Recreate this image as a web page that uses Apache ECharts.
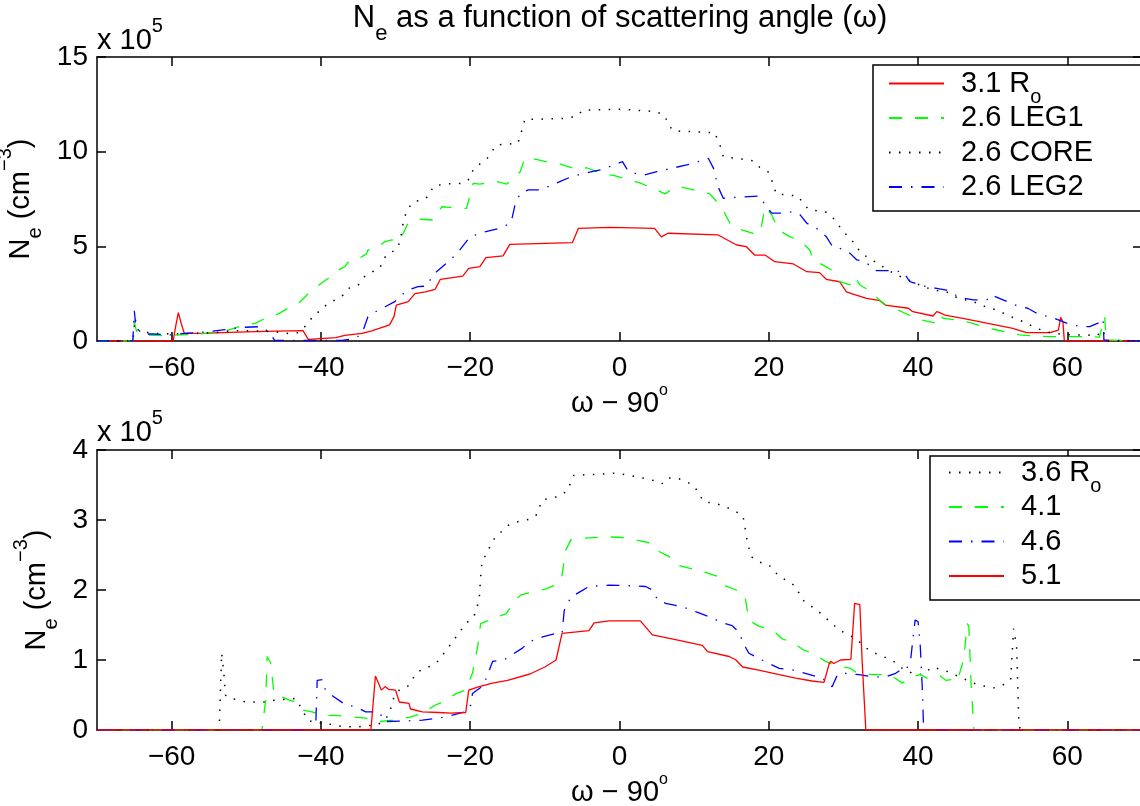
<!DOCTYPE html>
<html>
<head>
<meta charset="utf-8">
<script src="https://cdn.jsdelivr.net/npm/echarts@6.0.0/dist/echarts.min.js"></script>
<style>
html, body { margin: 0; padding: 0; background: #fff; }
#chart { width: 1140px; height: 806px; }
</style>
</head>
<body>
<div id="chart"></div>
<script>
// angle (omega - 90, deg) vs Ne in units of 1e5 cm^-3
var angleTicks = [-60, -40, -20, 0, 20, 40, 60];

// top panel
var r31 = [[-70,0],[-59.8,0],[-59.4,0.9],[-59.1,1.5],[-58.7,0.9],[-58.3,0.4],[-55,0.42],[-50,0.48],[-46,0.52],[-42.4,0.55],[-41.7,0.09],[-38,0.18],[-36.8,0.3],[-34.5,0.4],[-33.2,0.53],[-30.8,0.85],[-30.2,1.3],[-29.9,1.9],[-28.3,2.08],[-27.4,2.5],[-26,2.6],[-24.7,2.73],[-24,3.26],[-21,3.43],[-20.2,3.84],[-18.7,3.93],[-17.9,4.4],[-15.6,4.5],[-14.7,5.1],[-6.3,5.2],[-5.5,5.95],[-1.3,6.0],[4.7,5.95],[5.6,5.5],[6.5,5.69],[13.2,5.6],[15.7,5.07],[17.0,4.98],[18.1,4.54],[19.5,4.54],[20.8,4.19],[23.3,4.07],[25.1,3.66],[26.8,3.61],[27.7,3.26],[29.5,3.13],[30.4,2.6],[31.3,2.48],[33.1,2.25],[34.9,2.13],[35.6,1.9],[38.7,1.73],[39.3,1.55],[42.0,1.32],[42.5,1.55],[42.9,1.5],[43.6,1.37],[46.0,1.2],[49.2,0.94],[52.7,0.67],[54.5,0.44],[57.7,0.44],[58.8,0.58],[59.1,1.25],[59.4,1.02],[59.6,0],[70,0]];
var leg1 = [[-70,0],[-65.2,0],[-65.0,1.0],[-64.7,0.5],[-64.0,0.32],[-61.3,0.28],[-57,0.35],[-55.5,0.4],[-52.4,0.58],[-50.2,0.85],[-48.8,0.93],[-47.1,1.28],[-45.7,1.43],[-43.9,1.85],[-43.0,1.99],[-41.2,2.7],[-39.0,3.31],[-38.1,3.66],[-36.8,3.93],[-36.3,4.19],[-35.4,4.24],[-33.9,4.6],[-33.7,4.81],[-32.8,4.84],[-31.4,5.25],[-30.5,5.34],[-29.6,5.25],[-28.7,5.9],[-28.3,6.25],[-26.7,6.43],[-25.0,6.39],[-23.8,7.09],[-22.7,7.06],[-20.5,7.0],[-19.6,8.33],[-18.7,8.29],[-16.5,8.42],[-15.1,8.29],[-13.3,8.94],[-12.7,9.65],[-11.3,9.6],[-9.3,9.42],[-8.0,9.35],[-5.7,9.07],[-4.4,9.15],[-2.2,8.82],[-0.8,8.75],[1.4,8.5],[2.7,8.35],[4.5,8.07],[6.1,7.77],[7.6,8.17],[8.5,8.12],[10.8,7.89],[12.1,7.77],[13.4,7.18],[14.1,6.75],[15.0,6.07],[16.1,5.9],[17.9,5.69],[18.8,5.69],[19.0,6.04],[19.5,7.09],[20.4,6.66],[21.3,5.86],[22.8,5.51],[24.2,5.3],[25.5,4.81],[25.9,4.28],[27.3,4.01],[28.4,3.75],[29.5,3.13],[30.9,2.96],[31.5,3.4],[32.2,2.96],[33.8,2.6],[34.7,2.2],[36.0,1.81],[37.3,1.64],[39.3,1.28],[40.5,1.11],[42.5,0.94],[42.9,1.37],[43.4,1.2],[45.2,1.11],[46.5,1.02],[48.7,0.76],[50.1,0.62],[52.3,0.44],[53.6,0.32],[55.9,0.26],[57.7,0.23],[63.0,0.23],[64.3,0.2],[65.0,1.28],[65.2,0.05],[65.4,0],[70,0]];
var core = [[-70,0],[-65.2,0],[-64.9,1.2],[-64.5,0.58],[-62.7,0.4],[-60,0.37],[-56.9,0.4],[-54.3,0.44],[-51.6,0.54],[-48.9,0.54],[-46.2,0.49],[-44.4,0.4],[-43.0,0.44],[-41.7,0.93],[-41.0,1.37],[-39.9,1.64],[-39.2,1.95],[-38.1,2.17],[-37.0,2.43],[-36.3,2.78],[-35.0,2.96],[-34.3,3.36],[-33.4,3.61],[-32.1,3.84],[-31.7,4.28],[-31.0,4.63],[-29.9,4.81],[-29.4,5.25],[-29.0,6.2],[-28.5,6.9],[-27.6,7.36],[-26.3,7.45],[-25.4,7.71],[-25.0,8.15],[-23.6,8.29],[-20.9,8.33],[-20.0,8.59],[-19.6,9.07],[-18.7,9.35],[-17.8,9.6],[-17.1,10.0],[-16.5,10.35],[-15.1,10.4],[-13.6,10.44],[-13.3,10.88],[-12.9,11.32],[-12.7,11.71],[-11.1,11.71],[-7.1,11.76],[-5.7,11.88],[-4.9,12.2],[0.5,12.24],[5.0,12.11],[6.1,11.88],[6.5,11.45],[7.2,11.1],[12.8,11.0],[13.2,10.53],[13.7,10.13],[13.9,9.74],[17.9,9.52],[18.8,9.17],[19.9,8.94],[20.4,8.5],[21.0,7.77],[23.9,7.66],[24.6,7.27],[25.3,6.96],[27.7,6.8],[28.6,6.5],[29.3,6.13],[29.9,5.86],[30.6,5.51],[31.5,5.16],[32.2,4.72],[33.1,4.45],[34.2,4.19],[34.9,4.01],[37.1,3.49],[38.2,3.31],[40.2,2.96],[42.0,2.69],[43.8,2.6],[45.4,2.25],[47.4,2.08],[49.2,1.78],[50.5,1.64],[52.5,1.28],[54.1,1.02],[55.4,0.76],[56.5,0.58],[58.1,0.4],[60.8,0.32],[62.6,0.32],[63.9,0.26],[64.8,0.58],[65.0,0.23],[65.2,0],[70,0]];
var leg2 = [[-70,0],[-65.2,0],[-65.0,1.6],[-64.8,0.8],[-64.0,0.37],[-62.5,0.37],[-60.0,0.32],[-58.2,0.4],[-55.1,0.49],[-52.4,0.62],[-50.6,0.72],[-47.9,0.76],[-46.8,0.4],[-46.2,0.03],[-37.2,0.03],[-35.4,0.14],[-34.5,0.4],[-33.7,1.28],[-32.3,1.64],[-31.4,1.81],[-30.1,2.08],[-29.2,2.43],[-28.3,2.69],[-27.0,2.87],[-25.8,2.9],[-25.0,3.49],[-23.2,4.1],[-21.8,4.6],[-20.0,5.51],[-18.5,5.72],[-15.6,6.0],[-14.5,6.3],[-14.0,7.18],[-13.3,7.8],[-12.2,7.98],[-10.9,7.98],[-9.3,8.19],[-8.0,8.42],[-6.6,8.65],[-5.3,8.8],[-3.7,8.94],[-2.2,9.07],[-0.8,9.3],[0.4,9.47],[1.2,8.94],[3.2,8.75],[5.0,8.94],[6.2,9.05],[9.0,9.3],[10.5,9.47],[11.9,9.65],[12.6,9.12],[13.2,8.15],[13.9,7.54],[15.7,7.59],[18.8,7.66],[19.5,7.18],[20.4,6.75],[21.5,6.75],[23.3,6.83],[24.2,6.66],[25.1,6.22],[26.8,5.86],[27.7,5.51],[28.6,4.95],[29.5,4.9],[30.9,4.63],[31.8,4.28],[32.6,4.22],[34.0,3.9],[34.4,3.72],[35.8,3.72],[38.0,3.66],[38.9,3.13],[41.1,2.87],[42.5,2.78],[43.8,2.69],[45.6,2.3],[47.4,2.17],[49.2,2.17],[49.8,2.43],[50.9,2.25],[52.5,1.99],[53.6,1.81],[54.7,1.73],[56.3,1.37],[57.7,1.28],[59.9,0.94],[61.7,0.76],[63.0,0.76],[64.1,0.94],[64.6,1.2],[64.8,1.02],[64.9,0.05],[65.1,0],[70,0]];

// bottom panel
var r36 = [[-70,0],[-53.8,0],[-53.6,0.1],[-53.3,1.1],[-53.0,0.81],[-52.8,0.5],[-52.3,0.45],[-51.4,0.44],[-50.1,0.4],[-48.7,0.4],[-47.4,0.4],[-46.1,0.43],[-44.7,0.44],[-43.4,0.45],[-42.5,0.29],[-41.8,0.14],[-40.7,0.1],[-39.4,0.1],[-38,0.06],[-36.7,0.05],[-35.3,0.04],[-34,0.06],[-32.4,0.07],[-30.9,0.21],[-30.2,0.48],[-29.5,0.57],[-28.4,0.62],[-27.1,0.83],[-26.0,0.88],[-24.6,0.95],[-23.7,1.07],[-22.5,1.24],[-20.6,1.52],[-19.5,1.62],[-18.8,1.86],[-18.6,2.19],[-18.4,2.43],[-17.7,2.52],[-17.3,2.64],[-16.6,2.76],[-14.8,2.93],[-13.5,2.98],[-12.1,3.01],[-11.2,3.06],[-10.3,3.29],[-9.0,3.31],[-7.7,3.36],[-6.9,3.43],[-6.5,3.55],[-6.1,3.64],[-3.2,3.65],[-0.5,3.67],[2.2,3.62],[4.8,3.56],[5.7,3.52],[6.4,3.6],[7.7,3.6],[8.9,3.55],[10.0,3.49],[10.6,3.38],[11.3,3.26],[12.7,3.24],[14.0,3.2],[15.2,3.14],[16.5,3.07],[16.7,2.98],[16.9,2.83],[17.1,2.71],[17.6,2.48],[18.7,2.4],[20.0,2.36],[21.4,2.19],[22.7,2.12],[23.6,2.05],[24.5,1.86],[25.8,1.76],[26.7,1.69],[29.4,1.43],[31.6,1.31],[33.4,1.14],[34.8,1.07],[36.5,1.0],[37.9,0.88],[39.2,0.81],[40.6,0.79],[41.9,0.9],[43.2,0.86],[44.1,0.83],[45.5,0.76],[47.7,0.66],[49.1,0.62],[50.4,0.6],[51.3,0.64],[52.4,0.71],[52.8,1.45],[53.2,1.19],[53.5,0.1],[53.7,0],[70,0]];
var r41 = [[-70,0],[-47.9,0],[-47.4,0.43],[-47.2,1.05],[-46.7,0.95],[-46.3,0.52],[-45.4,0.48],[-44.3,0.43],[-43.4,0.4],[-42.7,0.29],[-41.2,0.26],[-39.8,0.21],[-38,0.21],[-36.2,0.19],[-34,0.17],[-32.2,0.12],[-30.4,0.14],[-28.2,0.18],[-26.4,0.24],[-24.6,0.36],[-23.7,0.4],[-21.9,0.52],[-20.6,0.57],[-19.7,0.81],[-19.0,1.19],[-18.6,1.52],[-16.8,1.6],[-15.2,1.66],[-13.9,1.86],[-13.2,1.93],[-11.2,1.98],[-9.7,2.02],[-8.1,2.1],[-7.7,2.21],[-7.2,2.57],[-6.5,2.72],[-4.8,2.74],[-1.8,2.76],[0.4,2.75],[2.4,2.71],[4.2,2.67],[5.3,2.55],[6.6,2.48],[7.5,2.36],[9.8,2.3],[11.3,2.26],[13.3,2.19],[14.0,2.07],[15.6,2.0],[16.7,1.95],[16.9,1.86],[17.3,1.57],[18.7,1.48],[20.5,1.43],[21.8,1.3],[23.1,1.26],[24.7,1.14],[25.8,1.1],[27.6,0.98],[28.7,0.93],[30.1,0.9],[31.0,0.88],[31.6,0.83],[33.9,0.79],[35.2,0.79],[36.1,0.8],[37.9,0.67],[39.0,0.76],[40.3,0.79],[41.2,0.74],[41.7,0.76],[42.8,0.79],[43.7,0.71],[44.4,0.72],[44.6,0.81],[45.5,0.79],[46.1,1.0],[46.6,1.52],[46.8,1.48],[47.1,0.67],[47.4,0.14],[47.5,0],[70,0]];
var r46 = [[-70,0],[-40.8,0],[-40.7,0.05],[-40.5,0.71],[-39.8,0.72],[-39.4,0.57],[-38.9,0.52],[-36.7,0.36],[-35.3,0.33],[-34.0,0.26],[-32.2,0.26],[-31.5,0.12],[-28.6,0.13],[-26.4,0.14],[-24.2,0.17],[-22.8,0.2],[-20.6,0.26],[-19.9,0.36],[-19.7,0.52],[-18.2,0.64],[-17.0,0.98],[-15.5,1.0],[-14.8,1.05],[-13.0,1.17],[-12.1,1.26],[-10.3,1.33],[-8.5,1.38],[-7.7,1.38],[-7.4,1.71],[-6.5,1.9],[-5.2,1.98],[-4.1,2.05],[-1.4,2.07],[1.7,2.06],[3.5,2.05],[4.4,2.0],[5.1,1.86],[6.2,1.81],[8.4,1.76],[10.2,1.69],[12.0,1.62],[13.8,1.53],[15.1,1.49],[16.0,1.4],[16.5,1.26],[17.3,1.1],[18.7,1.02],[21.4,0.88],[23.1,0.86],[24.9,0.81],[27.2,0.74],[28.1,0.64],[28.5,0.62],[29.2,0.79],[30.1,0.81],[32.1,0.79],[33.9,0.76],[35.7,0.76],[37.0,0.81],[37.7,0.86],[38.4,0.86],[39.0,1.0],[39.6,1.57],[40.0,1.55],[40.3,1.19],[40.6,0.52],[40.7,0.14],[40.8,0],[70,0]];
var r51 = [[-70,0],[-33.3,0],[-32.7,0.77],[-31.9,0.57],[-31.4,0.62],[-30.9,0.58],[-30.0,0.57],[-29.5,0.4],[-28.2,0.38],[-28.0,0.3],[-26.4,0.26],[-24.2,0.25],[-22.6,0.24],[-20.6,0.25],[-20.2,0.57],[-18.8,0.62],[-17.0,0.67],[-15.0,0.71],[-12.0,0.8],[-10.0,0.9],[-8.5,1.0],[-7.7,1.38],[-4.1,1.42],[-3.4,1.53],[-1.4,1.56],[2.8,1.56],[4.4,1.36],[7.5,1.29],[11.1,1.21],[11.8,1.12],[14.7,1.05],[15.6,1.0],[16.5,0.9],[18.5,0.86],[21.4,0.79],[23.6,0.74],[25.8,0.7],[27.4,0.68],[28.1,0.95],[28.3,0.98],[28.7,0.95],[29.6,1.0],[31.0,1.01],[31.5,1.81],[32.2,1.79],[32.5,1.0],[33.0,0],[70,0]];

var FONT = 'Liberation Sans';
var black = '#000';
var frame = { color: black, width: 1.5 };

// rich text styles: m = normal text, sub/sup = lowered / raised small text
function richSet(size, lh) {
    var small = Math.round(size * 0.7);
    return {
        m: { fontFamily: FONT, fontSize: size, fontWeight: 'normal', color: black, lineHeight: lh },
        sub: { fontFamily: FONT, fontSize: small, fontWeight: 'normal', color: black, verticalAlign: 'bottom', lineHeight: 4, height: 4 },
        sup: { fontFamily: FONT, fontSize: small, fontWeight: 'normal', color: black, verticalAlign: 'top', lineHeight: 4, height: 4 },
        deg: { fontFamily: FONT, fontSize: 16, fontWeight: 'normal', color: black, verticalAlign: 'top', lineHeight: 4, height: 8 },
        g: { width: 12, lineHeight: 4 }
    };
}
var nameRich = richSet(29, 34);
var titleRich = richSet(31, 36);
var legendRich = richSet(29, 32);

var chart = echarts.init(document.getElementById('chart'));

function xAxis(grid, pos, labelled) {
    return {
        type: 'value', gridIndex: grid, position: pos, min: -70, max: 70,
        axisLine: { show: true, onZero: false, lineStyle: frame },
        axisTick: { show: true, inside: true, length: 9, customValues: angleTicks, lineStyle: frame },
        axisLabel: {
            show: labelled, customValues: angleTicks, margin: 13, color: black,
            fontFamily: FONT, fontSize: 28,
            formatter: function (v) { return v < 0 ? '\u2212' + (-v) : String(v); }
        },
        splitLine: { show: false },
        name: labelled ? '{m|\u03c9 \u2212 90}{deg|o}' : '',
        nameLocation: 'middle', nameGap: 40,
        nameTextStyle: { rich: nameRich }
    };
}

function yAxis(grid, pos, max, step, labelled) {
    return {
        type: 'value', gridIndex: grid, position: pos, min: 0, max: max, interval: step,
        axisLine: { show: true, onZero: false, lineStyle: frame },
        axisTick: { show: true, inside: true, length: 9, lineStyle: frame },
        axisLabel: { show: labelled, margin: 9, color: black, fontFamily: FONT, fontSize: 28 },
        splitLine: { show: false },
        name: labelled ? '{m|N}{sub|e}{m| (cm}{sup|\u22123}{m|)}' : '',
        nameLocation: 'middle', nameGap: 26,
        nameTextStyle: { rich: nameRich }
    };
}

function series(name, data, grid, color, dash, width) {
    return {
        type: 'line', name: name, data: data,
        xAxisIndex: grid * 2, yAxisIndex: grid * 2,
        symbol: 'none', showSymbol: false, animation: false,
        lineStyle: { color: color, width: width, type: dash },
        itemStyle: { color: color }
    };
}

var solid = 'solid';
var dashed = [13, 13];
var dotted = [1.5, 8.5];
var dashDot = [13, 9, 1.5, 9];

// every entry gets a subscript slot so all legend rows have the same height
function legendText(name) {
    if (name.slice(-3) === ' Ro') {
        return '{g| }{m|' + name.slice(0, -1) + '}{sub|o}';
    }
    return '{g| }{m|' + name + '}{sub| }';
}

function legend(names, left, top, padding, gap) {
    return {
        data: names, orient: 'vertical', left: left, top: top,
        itemWidth: 55, itemHeight: 20, itemGap: gap, padding: padding,
        borderColor: black, borderWidth: 1.5, backgroundColor: '#fff',
        itemStyle: { color: 'rgba(0,0,0,0)', borderWidth: 0, opacity: 0 },
        selectedMode: false, formatter: legendText,
        textStyle: { rich: legendRich }
    };
}

var option = {
    backgroundColor: '#fff',
    animation: false,
    title: [
        {
            text: '{m|N}{sub|e}{m| as a function of scattering angle (\u03c9)}',
            left: 620, top: 0, textAlign: 'center', padding: 0,
            textStyle: { rich: titleRich }
        },
        {
            text: '{m|x 10}{sup|5}', left: 97, top: 24, padding: 0,
            textStyle: { rich: nameRich }
        },
        {
            text: '{m|x 10}{sup|5}', left: 97, top: 416, padding: 0,
            textStyle: { rich: nameRich }
        }
    ],
    grid: [
        { left: 97, top: 57, width: 1045, height: 284, containLabel: false, outerBoundsMode: 'none' },
        { left: 97, top: 450, width: 1045, height: 280, containLabel: false, outerBoundsMode: 'none' }
    ],
    xAxis: [
        xAxis(0, 'bottom', true), xAxis(0, 'top', false),
        xAxis(1, 'bottom', true), xAxis(1, 'top', false)
    ],
    yAxis: [
        yAxis(0, 'left', 15, 5, true), yAxis(0, 'right', 15, 5, false),
        yAxis(1, 'left', 4, 1, true), yAxis(1, 'right', 4, 1, false)
    ],
    legend: [
        legend(['3.1 Ro', '2.6 LEG1', '2.6 CORE', '2.6 LEG2'], 873, 65, [4, 48, 0, 15], -4),
        legend(['3.6 Ro', '4.1', '4.6', '5.1'], 930, 456, [2, 40, 0, 18], -4)
    ],
    series: [
        series('3.1 Ro', r31, 0, '#ff0000', solid, 1.3),
        series('2.6 LEG1', leg1, 0, '#00ff00', dashed, 1.3),
        series('2.6 CORE', core, 0, '#000000', dotted, 1.5),
        series('2.6 LEG2', leg2, 0, '#0000ff', dashDot, 1.3),
        series('3.6 Ro', r36, 1, '#000000', dotted, 1.5),
        series('4.1', r41, 1, '#00ff00', dashed, 1.3),
        series('4.6', r46, 1, '#0000ff', dashDot, 1.3),
        series('5.1', r51, 1, '#ff0000', solid, 1.3)
    ]
};

chart.setOption(option);
</script>
</body>
</html>
